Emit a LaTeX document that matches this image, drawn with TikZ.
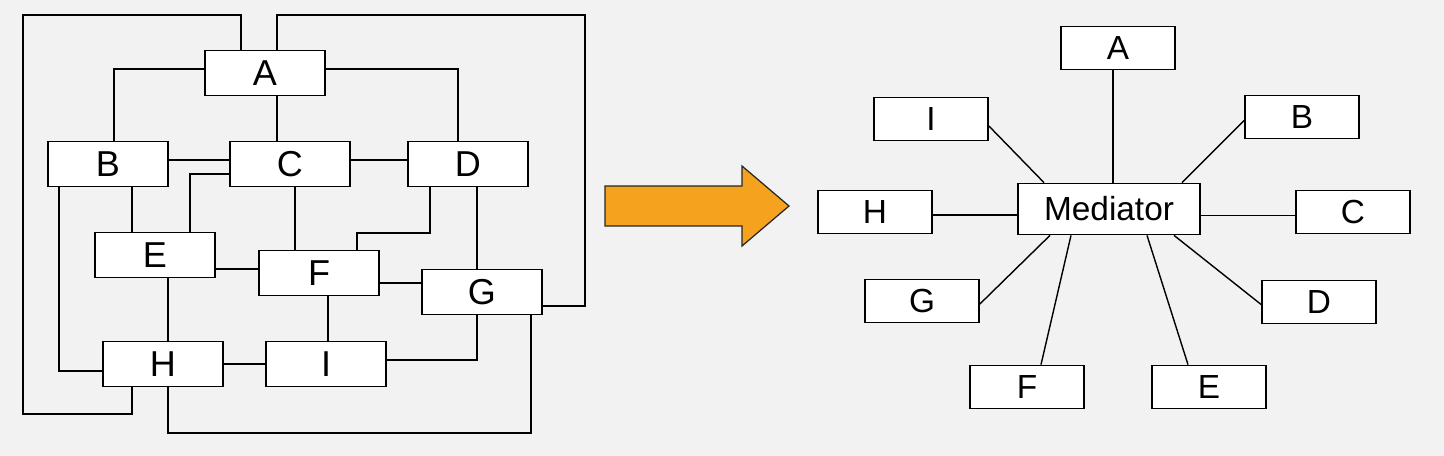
\documentclass[tikz,border=0pt]{standalone}
\usepackage{fontspec}
\setmainfont{Liberation Sans}
\usetikzlibrary{calc}
\definecolor{bggray}{HTML}{F2F2F2}
\definecolor{arroworange}{HTML}{F5A31E}
\def \boxw {2.4cm}
\def \boxh {0.9cm}
\def \peerw {2.28cm}
\def \peerh {0.86cm}
\tikzstyle{netbox}=[draw, fill=white, line width=1pt, minimum width=\boxw, minimum height=\boxh, inner sep=0pt, font=\fontsize{20.5}{24}\selectfont]
\tikzstyle{peer}=[netbox, minimum width=\peerw, minimum height=\peerh, font=\fontsize{19}{23}\selectfont]
\tikzstyle{hub}=[peer, minimum width=3.64cm, minimum height=1.02cm]
\tikzstyle{wire}=[line width=1.1pt]
\tikzstyle{spoke}=[line width=0.8pt]
\begin{document}
\begin{tikzpicture}[x=0.02cm, y=-0.02cm]

\useasboundingbox (0,0) rectangle (1444,456);
\fill[bggray] (0,0) rectangle (1444,456);

\foreach \n/\x/\y in {A/265/73, B/108/164, C/290/164, D/468/164, E/155/255, F/319/273, G/482/292, H/163/364, I/326/364}
    \node[netbox] (L\n) at (\x, \y) {\n};

\draw[wire] ($(LA.west)+(0,-4)$) -| ($(LB.north)+(6,0)$);
\draw[wire] ($(LA.south)+(12,0)$) coordinate (ac) -- (ac |- LC.north);
\draw[wire] ($(LA.east)+(0,-4)$) -| ($(LD.north)+(-10,0)$);
\draw[wire] ($(LA.north)+(12,0)$) |- (585,15) |- ($(LG.east)+(0,14)$);
\draw[wire] ($(LA.north)+(-24,0)$) |- (23,15) |- (132,414) -- ($(LH.south)+(-31,0)$);
\draw[wire] ($(LB.east)+(0,-4)$) -- ($(LC.west)+(0,-4)$);
\draw[wire] ($(LC.east)+(0,-4)$) -- ($(LD.west)+(0,-4)$);
\draw[wire] ($(LC.west)+(0,10)$) -| ($(LE.north)+(35,0)$);
\draw[wire] ($(LB.south)+(24,0)$) coordinate (be) -- (be |- LE.north);
\draw[wire] ($(LB.south)+(-49,0)$) |- ($(LH.west)+(0,7)$);
\draw[wire] ($(LC.south)+(5,0)$) coordinate (cf) -- (cf |- LF.north);
\draw[wire] ($(LD.south)+(-38,0)$) -- ++(0,46) -| ($(LF.north)+(38,0)$);
\draw[wire] ($(LD.south)+(9,0)$) coordinate (dg) -- (dg |- LG.north);
\draw[wire] ($(LE.east)+(0,14)$) coordinate (ef) -- (ef -| LF.west);
\draw[wire] ($(LF.east)+(0,10)$) coordinate (fg) -- (fg -| LG.west);
\draw[wire] ($(LE.south)+(13,0)$) coordinate (eh) -- (eh |- LH.north);
\draw[wire] ($(LF.south)+(9,0)$) coordinate (fi) -- (fi |- LI.north);
\draw[wire] (LH.east) -- (LI.west);
\draw[wire] ($(LI.east)+(0,-4)$) -| ($(LG.south)+(-5,0)$);
\draw[wire] ($(LH.south)+(5,0)$) -- ++(0,46) -| ($(LG.south)+(49,0)$);

\draw[fill=arroworange, draw=black!85, line width=0.7pt] (605,186) -- (742,186) -- (742,166) -- (789,206) -- (742,246) -- (742,226) -- (605,226) -- cycle;

\node[hub] (M) at (1109,209) {Mediator};
\foreach \n/\x/\y in {A/1118/48, B/1302/117, C/1353/212, D/1319/302, E/1209/387, F/1027/387, G/922/301, H/875/212, I/931/119}
    \node[peer] (R\n) at (\x, \y) {\n};

\draw[spoke] ($(RA.south)+(-5,0)$) coordinate (ra) -- (ra |- M.north);
\draw[spoke] ($(RI.east)+(0,7)$) -- ($(M.north)+(-65,0)$);
\draw[spoke] ($(RB.west)+(0,3.5)$) -- ($(M.north)+(73,0)$);
\draw[spoke] ($(RH.east)+(0,3)$) coordinate (rh) -- (rh -| M.west);
\draw[spoke] ($(M.east)+(0,6.5)$) coordinate (rc) -- (rc -| RC.west);
\draw[spoke] ($(M.south)+(-59,0)$) -- ($(RG.east)+(0,3)$);
\draw[spoke] ($(M.south)+(-38,0)$) -- ($(RF.north)+(14,0)$);
\draw[spoke] ($(M.south)+(38,0)$) -- ($(RE.north)+(-21,0)$);
\draw[spoke] ($(M.south)+(65,0)$) -- ($(RD.west)+(0,2.5)$);

\end{tikzpicture}
\end{document}
